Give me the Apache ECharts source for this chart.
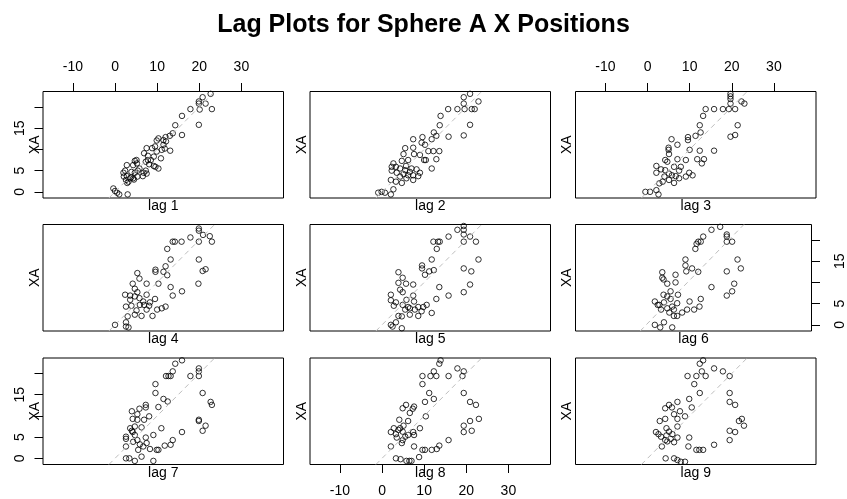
<!DOCTYPE html>
<html>
<head>
<meta charset="utf-8">
<script src="https://cdn.jsdelivr.net/npm/echarts@6/dist/echarts.min.js"></script>
<style>
  html, body { margin: 0; padding: 0; background: #fff; }
  #chart { width: 847px; height: 499px; }
</style>
</head>
<body>
<div id="chart"></div>
<script>
// Lag plots of the sphere A x position: each panel pairs XA with its lagged value [lagged, XA]
const lag1 = [[22.7,23.1],[20.8,22.3],[19.9,21.3],[19.9,20.8],[21.5,20.8],[20.1,19.4],[17.9,19.5],[23.0,19.5],[15.9,17.9],[19.9,15.8],[14.3,15.7],[15.9,13.4],[13.7,13.8],[13.0,13.2],[12.0,12.9],[11.5,12.2],[12.1,11.9],[10.3,12.6],[9.9,12.1],[11.5,11.1],[13.1,9.7],[9.5,10.7],[8.8,10.3],[11.1,9.9],[11.8,10.2],[9.9,9.5],[7.5,10.3],[6.9,9.1],[7.8,8.5],[9.2,8.3],[10.9,7.9],[7.8,7.5],[7.3,7.1],[8.1,6.5],[9.6,5.9],[10.3,5.5],[9.2,6.1],[5.1,7.5],[4.7,7.3],[5.2,6.7],[4.3,6.3],[2.8,6.3],[5.8,5.5],[7.3,5.0],[7.5,4.3],[6.8,4.5],[5.4,5.0],[3.9,4.7],[4.7,4.5],[2.4,5.0],[2.0,4.5],[2.8,3.7],[3.8,3.4],[4.3,3.2],[5.3,3.6],[2.6,2.8],[3.2,2.4],[3.6,3.2],[2.9,2.1],[4.5,2.9],[-0.4,0.8],[0.0,0.2],[0.5,-0.2],[1.0,-0.6],[3.0,-0.6],[8.5,7.5],[2.1,3.6],[6.6,3.7]];
const lag2 = [[20.9,23.1],[19.4,22.3],[22.9,21.3],[19.4,20.8],[15.7,19.5],[17.9,19.5],[19.6,19.5],[21.3,19.5],[22.0,19.5],[13.9,17.9],[13.7,15.7],[20.9,15.8],[15.8,13.0],[19.4,13.3],[12.3,14.0],[12.9,13.2],[11.8,12.4],[9.6,12.9],[7.4,12.4],[9.4,11.6],[10.2,11.1],[7.4,10.4],[5.5,10.3],[11.0,9.6],[12.2,9.6],[13.6,9.6],[5.1,8.9],[7.6,8.9],[9.0,8.7],[10.0,7.5],[10.4,7.5],[12.9,7.7],[6.2,7.5],[4.7,7.3],[2.7,6.7],[2.3,5.9],[3.3,5.9],[4.3,5.5],[5.7,6.1],[7.0,5.5],[8.2,5.3],[2.3,5.0],[3.5,4.5],[5.1,4.2],[6.2,3.9],[7.4,3.9],[9.0,4.5],[11.8,5.5],[2.1,2.8],[3.3,2.4],[4.7,2.1],[5.8,3.2],[7.4,2.8],[6.6,4.7],[-0.9,-0.2],[-0.1,0.0],[0.7,-0.2],[2.1,-0.6],[2.7,0.6],[4.3,3.6],[5.5,5.1],[8.6,3.7]];
const lag3 = [[19.7,23.1],[19.7,22.5],[19.7,21.9],[22.3,21.3],[23.0,20.8],[19.7,20.8],[13.8,19.5],[15.8,19.5],[17.9,19.5],[19.3,19.5],[20.8,19.5],[13.2,17.9],[12.4,15.7],[21.4,15.7],[19.7,13.0],[20.8,13.4],[12.6,14.0],[11.4,13.2],[9.6,12.9],[9.6,12.2],[5.7,12.4],[7.1,11.1],[5.0,10.4],[10.0,9.9],[5.0,9.9],[12.4,9.7],[15.8,9.7],[5.1,8.9],[9.1,7.5],[11.8,7.7],[13.4,7.7],[12.9,6.7],[7.1,7.7],[4.2,7.5],[4.7,7.1],[2.1,6.1],[3.2,5.3],[4.2,5.1],[6.3,5.9],[7.9,5.9],[2.1,4.5],[5.1,4.3],[6.7,3.7],[9.1,3.6],[9.9,4.5],[10.7,3.9],[7.5,3.2],[3.6,2.4],[6.3,2.1],[5.1,2.8],[2.8,2.0],[-0.5,0.0],[0.6,0.0],[2.1,0.4],[2.6,-0.6],[5.8,3.9],[4.0,3.6],[7.5,5.0]];
const lag4 = [[19.9,22.7],[19.9,22.2],[20.9,21.2],[22.5,20.9],[23.0,19.6],[17.9,20.6],[19.9,19.6],[13.7,19.6],[14.2,19.6],[15.8,19.6],[12.4,17.9],[13.2,15.4],[19.9,15.4],[19.8,9.7],[20.8,12.7],[21.5,13.1],[9.6,13.0],[9.6,12.5],[11.5,12.5],[12.0,13.8],[12.4,11.7],[5.3,12.2],[5.8,10.9],[4.2,9.7],[7.5,9.7],[10.3,9.7],[4.7,8.5],[13.2,8.9],[15.9,7.9],[13.7,6.9],[2.4,7.1],[3.6,6.9],[5.3,7.7],[7.5,7.1],[9.5,6.1],[5.8,6.3],[3.6,5.9],[2.6,4.3],[3.9,4.5],[5.9,4.7],[6.9,4.7],[8.1,4.5],[11.1,3.9],[12.0,4.3],[10.0,3.6],[8.9,2.1],[7.5,3.6],[6.3,2.1],[4.7,2.4],[3.0,2.0],[2.6,0.6],[0.0,0.0],[2.6,-0.4],[3.2,-0.6],[4.7,6.7],[6.7,5.5],[8.3,5.3],[5.1,3.4]];
const lag5 = [[19.4,23.3],[19.4,22.4],[17.9,22.4],[19.4,21.3],[20.9,20.8],[15.8,20.8],[12.2,19.6],[13.3,19.6],[13.7,19.6],[19.4,19.6],[22.3,19.6],[13.0,17.9],[22.9,15.4],[11.8,15.4],[19.4,13.3],[21.2,12.6],[9.5,14.0],[9.5,13.3],[11.2,12.6],[12.3,12.9],[10.2,11.8],[3.9,12.4],[4.9,11.1],[3.9,9.9],[5.7,9.7],[7.4,9.5],[13.6,8.9],[20.9,9.5],[19.4,7.7],[15.8,6.9],[12.9,6.1],[2.1,7.1],[4.9,7.7],[7.4,6.9],[2.1,5.8],[3.3,5.3],[2.8,4.5],[4.9,4.7],[6.2,4.2],[7.6,5.5],[8.6,4.2],[9.8,4.2],[10.6,4.7],[11.8,2.8],[7.8,3.6],[6.6,2.4],[8.6,2.1],[4.7,2.0],[3.9,2.1],[3.3,0.6],[2.1,0.0],[2.5,-0.4],[4.7,-0.8],[5.5,3.6],[4.3,8.3],[6.6,3.9],[9.4,3.2],[5.8,5.9]];
const lag6 = [[17.9,23.1],[15.8,22.4],[13.8,20.8],[19.5,21.3],[19.5,20.8],[19.5,19.6],[20.8,19.6],[12.6,19.6],[13.2,19.6],[12.2,19.1],[11.9,17.9],[9.5,15.4],[22.1,15.4],[22.9,13.3],[19.5,12.6],[9.5,14.0],[9.7,12.6],[11.1,13.3],[12.6,12.5],[3.9,12.4],[3.9,11.1],[7.1,11.8],[5.1,9.7],[7.1,10.0],[4.2,10.7],[15.8,8.9],[21.3,9.7],[20.8,7.9],[19.5,6.9],[4.2,7.1],[2.1,5.5],[2.8,4.7],[4.3,5.3],[5.9,6.1],[7.7,7.1],[5.1,3.9],[6.3,4.3],[7.5,5.1],[10.5,5.5],[13.2,6.1],[12.9,4.3],[11.6,3.6],[9.9,3.6],[8.7,2.9],[7.5,2.1],[6.7,2.1],[5.6,2.9],[3.6,3.6],[2.1,0.0],[3.4,-0.6],[4.3,0.6],[6.3,-0.6],[3.2,4.7],[5.9,7.9],[5.1,6.7],[6.7,3.6]];
const lag7 = [[15.9,23.1],[14.3,22.3],[13.7,20.5],[12.1,19.4],[12.7,19.4],[13.2,19.4],[17.9,19.4],[19.9,21.2],[19.9,20.5],[19.9,19.4],[9.6,17.5],[9.6,15.4],[20.8,15.4],[11.5,14.0],[12.5,13.4],[10.3,12.1],[22.7,13.3],[23.0,12.6],[7.3,12.6],[7.3,12.0],[5.8,11.7],[4.0,11.1],[5.3,10.4],[4.2,9.3],[5.3,9.1],[6.9,9.1],[8.1,9.9],[11.0,7.1],[19.9,9.1],[19.9,8.8],[21.5,7.7],[20.8,6.5],[15.9,6.2],[3.6,7.1],[4.7,7.5],[6.3,7.3],[4.2,6.2],[2.6,5.1],[2.6,4.6],[4.7,5.5],[5.3,4.3],[7.3,4.9],[9.1,5.5],[5.9,3.3],[7.5,3.6],[2.6,2.8],[5.5,2.0],[8.3,2.2],[9.9,2.0],[10.3,2.0],[11.8,3.0],[13.2,3.2],[13.7,4.3],[2.6,0.0],[3.4,0.0],[4.7,-0.6],[6.3,0.4],[9.1,-0.6],[4.0,6.5],[6.7,2.8],[4.3,3.9]];
const lag8 = [[13.9,23.1],[13.6,22.3],[12.3,20.5],[11.5,19.4],[12.9,19.4],[9.6,19.4],[15.8,19.4],[17.9,21.2],[19.4,20.5],[19.1,19.4],[9.6,17.5],[11.2,15.4],[12.3,14.0],[10.2,13.3],[19.4,15.4],[20.9,13.3],[22.3,12.6],[23.0,9.3],[20.9,8.8],[19.4,7.7],[19.4,6.2],[21.3,6.5],[15.8,4.3],[7.6,12.2],[7.3,11.7],[5.7,12.6],[4.9,11.8],[6.6,10.7],[10.4,9.9],[6.2,8.8],[4.1,9.1],[5.1,7.7],[9.0,7.1],[2.8,7.1],[3.9,6.7],[2.1,6.2],[3.3,5.7],[4.9,6.3],[6.2,5.5],[7.4,6.2],[7.6,5.5],[4.9,4.3],[4.7,3.6],[2.1,2.8],[7.6,2.8],[9.6,2.0],[10.2,2.0],[11.8,2.0],[13.0,2.2],[13.6,3.0],[3.3,0.0],[4.4,-0.2],[5.8,-0.6],[6.5,-0.6],[7.0,-0.6],[8.8,0.3],[3.5,4.9],[5.5,5.1],[4.3,7.1]];
const lag9 = [[13.2,23.1],[12.4,22.3],[12.9,20.5],[9.5,19.4],[11.6,19.4],[13.8,19.4],[15.8,21.2],[17.9,20.5],[19.5,19.4],[11.1,17.5],[12.4,15.4],[19.5,15.4],[9.9,14.0],[19.5,13.3],[20.8,12.6],[10.5,12.0],[7.1,13.3],[5.1,12.6],[4.2,11.8],[5.8,12.0],[6.3,10.4],[7.7,11.1],[8.9,9.9],[7.1,9.3],[4.2,9.3],[2.9,8.8],[22.4,9.3],[21.7,8.8],[22.9,7.7],[19.5,6.5],[20.8,6.2],[19.5,4.3],[15.8,3.2],[7.1,7.5],[4.5,7.1],[5.1,6.3],[2.0,6.2],[2.6,5.7],[3.2,5.1],[4.5,5.4],[5.9,5.7],[7.1,4.9],[9.9,4.9],[4.2,4.3],[6.3,3.8],[3.4,2.8],[9.7,2.8],[11.6,2.0],[12.3,2.0],[13.2,2.0],[4.3,0.0],[6.3,0.0],[7.1,-0.4],[7.9,-0.8],[8.9,-0.8],[4.7,4.0],[5.5,4.6]];

// Axis ticks and the tick labels that are printed
const xTicks = [-10, 0, 10, 20, 30];
const yTicks = [0, 5, 10, 15, 20];
const yTickLabels = [0, 5, 15];
const yName = 'XA';
const titleText = 'Lag Plots for Sphere A X Positions';

// Shared axis extent (equal aspect: same units per pixel on both axes)
const X_MIN = -17.1, X_MAX = 40.0;
const Y_MIN = -1.45, Y_MAX = 23.65;

// Panel layout
const colLeft = [43, 310, 575.5];
const rowTop = [91.5, 224.5, 358];
const PW = 240.5, PH = 106.5;
const FONT = '"Liberation Sans", Arial, Helvetica, sans-serif';

const panels = [
  { lag: 1, data: lag1, xTicks: 'top',    yTicks: 'left'  },
  { lag: 2, data: lag2, xTicks: null,     yTicks: null    },
  { lag: 3, data: lag3, xTicks: 'top',    yTicks: null    },
  { lag: 4, data: lag4, xTicks: null,     yTicks: null    },
  { lag: 5, data: lag5, xTicks: null,     yTicks: null    },
  { lag: 6, data: lag6, xTicks: null,     yTicks: 'right' },
  { lag: 7, data: lag7, xTicks: null,     yTicks: 'left'  },
  { lag: 8, data: lag8, xTicks: 'bottom', yTicks: null    },
  { lag: 9, data: lag9, xTicks: null,     yTicks: null    }
];

const tickStyle = (vals) => ({ show: true, inside: false, length: 8.5, customValues: vals,
  lineStyle: { color: '#000', width: 1 } });
const labelStyle = (vals, margin, rotate) => ({ show: true, customValues: vals, margin: margin,
  rotate: rotate || 0, color: '#000', fontSize: 14, fontFamily: FONT });
const hidden = { show: false };
const captionStyle = { color: '#000', fontSize: 14, fontFamily: FONT };

const grids = [], xAxes = [], yAxes = [], series = [];

panels.forEach((p, i) => {
  const col = i % 3, row = Math.floor(i / 3);
  grids.push({ left: colLeft[col], top: rowTop[row], width: PW, height: PH, show: true,
    borderColor: '#000', borderWidth: 1, backgroundColor: 'transparent' });

  const baseX = { gridIndex: i, type: 'value', min: X_MIN, max: X_MAX,
    axisLine: { show: false, onZero: false }, splitLine: { show: false } };
  const baseY = { gridIndex: i, type: 'value', min: Y_MIN, max: Y_MAX,
    axisLine: { show: false, onZero: false }, splitLine: { show: false } };

  // bottom x axis: carries the "lag k" caption, drawn over the tick labels
  const xi = xAxes.length;
  const bottomTicks = p.xTicks === 'bottom';
  xAxes.push(Object.assign({}, baseX, {
    position: 'bottom', name: 'lag ' + p.lag, nameLocation: 'middle', nameGap: 1.5,
    nameMoveOverlap: false, nameTextStyle: captionStyle,
    axisTick: bottomTicks ? tickStyle(xTicks) : hidden,
    axisLabel: bottomTicks ? labelStyle(xTicks, 19.5) : hidden
  }));
  if (p.xTicks === 'top') {
    xAxes.push(Object.assign({}, baseX, {
      position: 'top', axisTick: tickStyle(xTicks), axisLabel: labelStyle(xTicks, 17.5)
    }));
  }

  // left y axis: carries the "XA" caption
  const yi = yAxes.length;
  const leftTicks = p.yTicks === 'left';
  yAxes.push(Object.assign({}, baseY, {
    position: 'left', name: yName, nameLocation: 'middle', nameGap: 1,
    nameMoveOverlap: false, nameTextStyle: captionStyle,
    axisTick: leftTicks ? tickStyle(yTicks) : hidden,
    axisLabel: leftTicks ? labelStyle(yTickLabels, 16, 90) : hidden
  }));
  if (p.yTicks === 'right') {
    yAxes.push(Object.assign({}, baseY, {
      position: 'right', axisTick: tickStyle(yTicks), axisLabel: labelStyle(yTickLabels, 21.5, 90)
    }));
  }

  series.push({
    type: 'scatter', xAxisIndex: xi, yAxisIndex: yi, data: p.data,
    symbol: 'circle', symbolSize: 5.5,
    itemStyle: { color: 'rgba(0,0,0,0)', borderColor: '#000', borderWidth: 1 },
    silent: true,
    markLine: {
      silent: true, symbol: ['none', 'none'], label: { show: false },
      lineStyle: { color: '#bebebe', type: [5, 4], width: 1 },
      data: [[{ coord: [Y_MIN, Y_MIN] }, { coord: [Y_MAX, Y_MAX] }]]
    }
  });
});

const chart = echarts.init(document.getElementById('chart'), null, { renderer: 'canvas' });
chart.setOption({
  animation: false,
  backgroundColor: '#fff',
  title: {
    text: titleText, left: 'center', top: 8,
    textStyle: { color: '#000', fontSize: 25, fontWeight: 'bold', fontFamily: FONT }
  },
  grid: grids,
  xAxis: xAxes,
  yAxis: yAxes,
  series: series
});
</script>
</body>
</html>
